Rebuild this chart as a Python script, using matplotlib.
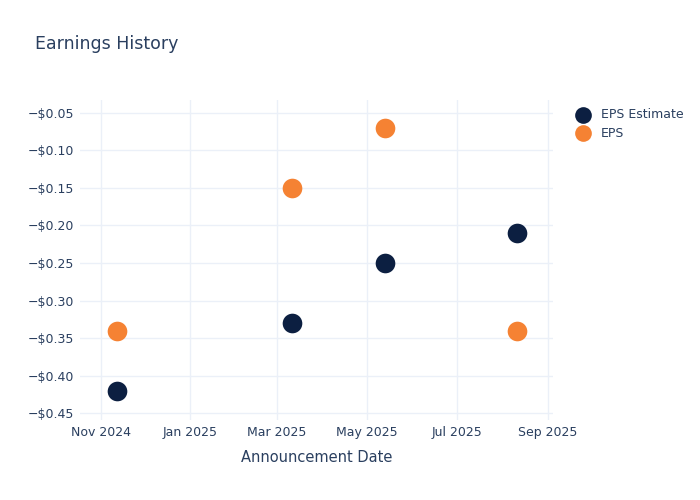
import pandas as pd
import matplotlib.pyplot as plt
import matplotlib.dates as mdates
from matplotlib.ticker import FuncFormatter

# Earnings data
dates = pd.to_datetime(['2024-11-12', '2025-03-11', '2025-05-13', '2025-08-11'])
eps_estimate = [-0.42, -0.33, -0.25, -0.21]
eps_actual = [-0.34, -0.15, -0.07, -0.34]

text_color = '#2a3f5f'
grid_color = '#ebf0f8'
navy = '#0c1f41'
orange = '#f58233'

fig = plt.figure(figsize=(7, 5), dpi=100)
ax = fig.add_axes([80 / 700, 1 - 420 / 500, 473 / 700, 320 / 500])

ax.scatter(dates, eps_estimate, s=200, color=navy, label='EPS Estimate', zorder=3, linewidths=0)
ax.scatter(dates, eps_actual, s=200, color=orange, label='EPS', zorder=3, linewidths=0)

ax.set_xlim(pd.Timestamp('2024-10-18'), pd.Timestamp('2025-09-04 12:00'))
ax.set_ylim(-0.4593, -0.0327)

ax.xaxis.set_major_locator(mdates.MonthLocator(bymonth=[1, 3, 5, 7, 9, 11]))
ax.xaxis.set_major_formatter(mdates.DateFormatter('%b %Y'))
ax.set_yticks([-0.05, -0.10, -0.15, -0.20, -0.25, -0.30, -0.35, -0.40, -0.45])
ax.yaxis.set_major_formatter(FuncFormatter(lambda v, p: '\u2212$%.2f' % abs(v)))

for s in ax.spines.values():
    s.set_visible(False)
ax.grid(True, color=grid_color, linewidth=1)
ax.set_axisbelow(True)
ax.tick_params(length=0, labelsize=9, colors=text_color, pad=4)

ax.set_xlabel('Announcement Date', fontsize=10.5, color=text_color, labelpad=8)
fig.text(35 / 700, 1 - 44 / 500, 'Earnings History', fontsize=12.5, color=text_color, va='center')

ax.legend(loc='upper left', bbox_to_anchor=(570 / 700, 1 - 103 / 500), bbox_transform=fig.transFigure,
          frameon=False, fontsize=9, labelcolor=text_color, handletextpad=0.9,
          labelspacing=0.45, borderaxespad=0, handlelength=1.2, markerscale=0.85)

plt.savefig('out.png', dpi=100)
plt.close()
